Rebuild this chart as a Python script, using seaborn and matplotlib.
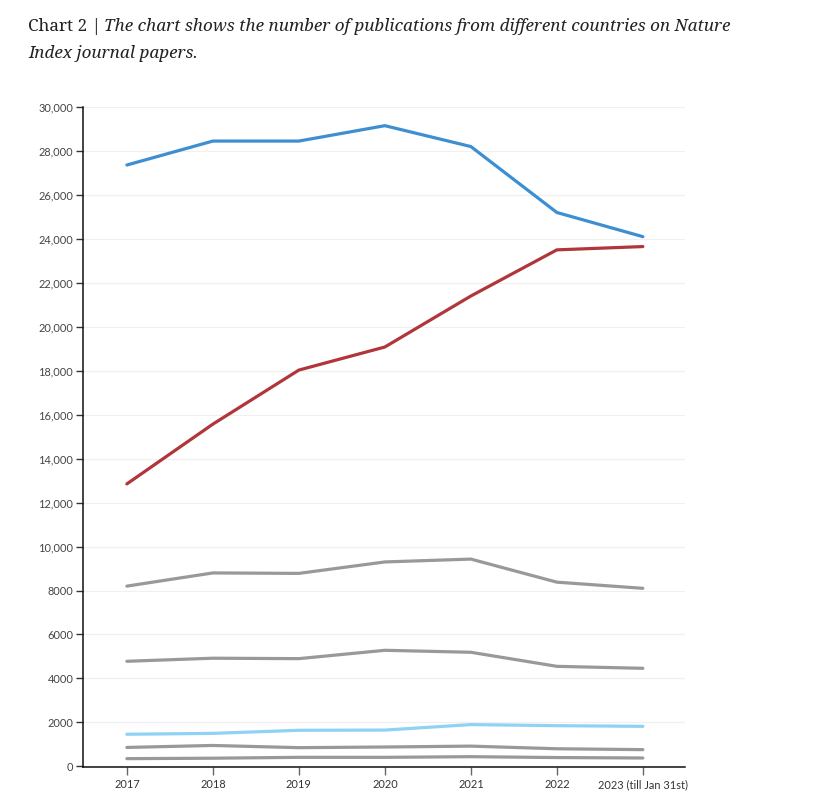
import matplotlib
matplotlib.use("Agg")
import matplotlib.pyplot as plt
import seaborn as sns
import pandas as pd

years = ["2017", "2018", "2019", "2020", "2021", "2022", "2023 (till Jan 31st)"]
series_a = [27360, 28450, 28450, 29150, 28200, 25200, 24100]
series_b = [12850, 15570, 18030, 19080, 21400, 23500, 23650]
series_c = [8200, 8800, 8780, 9300, 9430, 8380, 8100]
series_d = [4780, 4920, 4900, 5280, 5190, 4550, 4460]
series_e = [1460, 1500, 1640, 1650, 1900, 1850, 1820]
series_f = [860, 950, 850, 880, 920, 800, 760]
series_g = [350, 370, 410, 410, 440, 400, 380]
series_names = ["A", "B", "C", "D", "E", "F", "G"]
series_colors = ["#3d8fd1", "#b1363b", "#999999", "#999999", "#8ed3f6", "#999999", "#999999"]
y_ticks = [0, 2000, 4000, 6000, 8000, 10000, 12000, 14000, 16000, 18000, 20000,
           22000, 24000, 26000, 28000, 30000]
y_tick_labels = ["0", "2000", "4000", "6000", "8000", "10,000", "12,000", "14,000",
                 "16,000", "18,000", "20,000", "22,000", "24,000", "26,000",
                 "28,000", "30,000"]
title_prefix = "Chart 2 | "
title_line1 = "The chart shows the number of publications from different countries on Nature"
title_line2 = "Index journal papers."

all_series = [series_a, series_b, series_c, series_d, series_e, series_f, series_g]
rows = []
for name, vals in zip(series_names, all_series):
    for i, v in enumerate(vals):
        rows.append({"x": i, "value": v, "series": name})
df = pd.DataFrame(rows)

sns.set_theme(style="white")
plt.rcParams["font.family"] = ["Lato", "DejaVu Sans"]

fig = plt.figure(figsize=(8.22, 8.08), dpi=100)
ax = fig.add_axes([83 / 822, 1 - 767 / 808, (685 - 83) / 822, (767 - 107) / 808])

sns.lineplot(data=df, x="x", y="value", hue="series", hue_order=series_names,
             palette=dict(zip(series_names, series_colors)), linewidth=2.3,
             legend=False, ax=ax)

ax.set_xlim(-0.51, 6.49)
ax.set_ylim(-30, 30000)
ax.set_xticks(range(len(years)))
ax.set_xticklabels(years, fontsize=7.9, color="#333333")
ax.set_yticks(y_ticks)
ax.set_yticklabels(y_tick_labels, fontsize=7.9, color="#444444")
ax.set_xlabel("")
ax.set_ylabel("")
ax.grid(axis="y", color="#f0f0f0", linewidth=0.9)
ax.set_axisbelow(True)
for s in ["top", "right"]:
    ax.spines[s].set_visible(False)
for s in ["left", "bottom"]:
    ax.spines[s].set_color("#111111")
    ax.spines[s].set_linewidth(1.1)
ax.tick_params(axis="y", which="major", left=True, length=5, width=1, color="#333333", pad=2)
ax.tick_params(axis="x", which="major", bottom=True, length=6, width=1, color="#666666", pad=3)

serif = ["Noto Serif", "DejaVu Serif"]
t1 = fig.text(28 / 822, 1 - 31 / 808, title_prefix, fontsize=12.3, family=serif,
              color="#222222", va="baseline")
fig.canvas.draw()
bb = t1.get_window_extent(renderer=fig.canvas.get_renderer())
x2 = (bb.x1 - 2) / fig.bbox.width
fig.text(x2, 1 - 31 / 808, title_line1, fontsize=12.3, family=serif, style="italic",
         color="#222222", va="baseline")
fig.text(28 / 822, 1 - 58 / 808, title_line2, fontsize=12.3, family=serif, style="italic",
         color="#222222", va="baseline")

fig.savefig("out.png", dpi=100)
